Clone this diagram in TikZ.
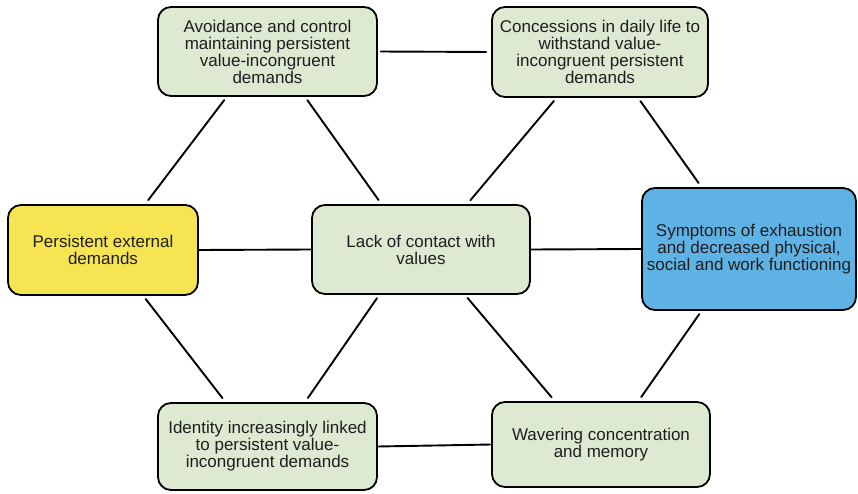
\documentclass[tikz,border=0pt]{standalone}
\usepackage{fontspec}
\setmainfont{Liberation Sans}
\usetikzlibrary{calc}

\definecolor{boxgreen}{RGB}{222,233,209}
\definecolor{boxyellow}{RGB}{246,228,82}
\definecolor{boxblue}{RGB}{95,178,228}
\definecolor{boxtext}{RGB}{30,30,30}

\tikzset{
  box/.style={draw=black, line width=1.8pt, rounded corners=13pt, fill=boxgreen,
    align=center, text=boxtext, inner sep=2pt,
    font=\fontsize{17}{17}\selectfont},
  link/.style={draw=black, line width=1.9pt, line cap=round}
}

\begin{document}
\begin{tikzpicture}[x=1pt, y=-1pt]
    \useasboundingbox (0,0) rectangle (858,494);

    \node[box, minimum width=219pt, minimum height=89pt] (avoid) at (267.5,51.5)
        {Avoidance and control\\maintaining persistent\\value-incongruent\\demands};
    \node[box, minimum width=216pt, minimum height=90pt] (concess) at (600,52)
        {Concessions in daily life to\\withstand value-\\incongruent persistent\\demands};
    \node[box, fill=boxyellow, minimum width=190pt, minimum height=90pt] (external) at (103,250)
        {Persistent external\\demands};
    \node[box, minimum width=218pt, minimum height=89pt] (lack) at (421,249.5)
        {Lack of contact with\\values};
    \node[box, fill=boxblue, minimum width=214pt, minimum height=122pt] (symptoms) at (749,249)
        {Symptoms of exhaustion\\and decreased physical,\\social and work functioning};
    \node[box, minimum width=219pt, minimum height=87pt] (identity) at (267.5,446.5)
        {Identity increasingly linked\\to persistent value-\\incongruent demands};
    \node[box, minimum width=218pt, minimum height=85pt] (waver) at (601,444.5)
        {Wavering concentration\\and memory};

    % horizontal links
    \draw[link, shorten <=3pt, shorten >=5pt] (avoid.east) -- (concess.west);
    \draw[link] (external.east) -- (lack.west);
    \draw[link] (lack.east) -- (symptoms.west);
    \draw[link, shorten <=1pt, shorten >=1pt] (identity.east) -- (waver.west);

    % slanted links, from a box bottom to a box top
    \foreach \up/\fu/\down/\fd in {avoid/.315/external/.72, avoid/.67/lack/.32,
        concess/.30/lack/.71, concess/.675/symptoms/.28,
        external/.71/identity/.31, lack/.31/identity/.67,
        lack/.70/waver/.29, symptoms/.28/waver/.67}
        \draw[link, shorten <=4pt, shorten >=5pt]
            ($(\up.south west)!\fu!(\up.south east)$) -- ($(\down.north west)!\fd!(\down.north east)$);
\end{tikzpicture}
\end{document}
